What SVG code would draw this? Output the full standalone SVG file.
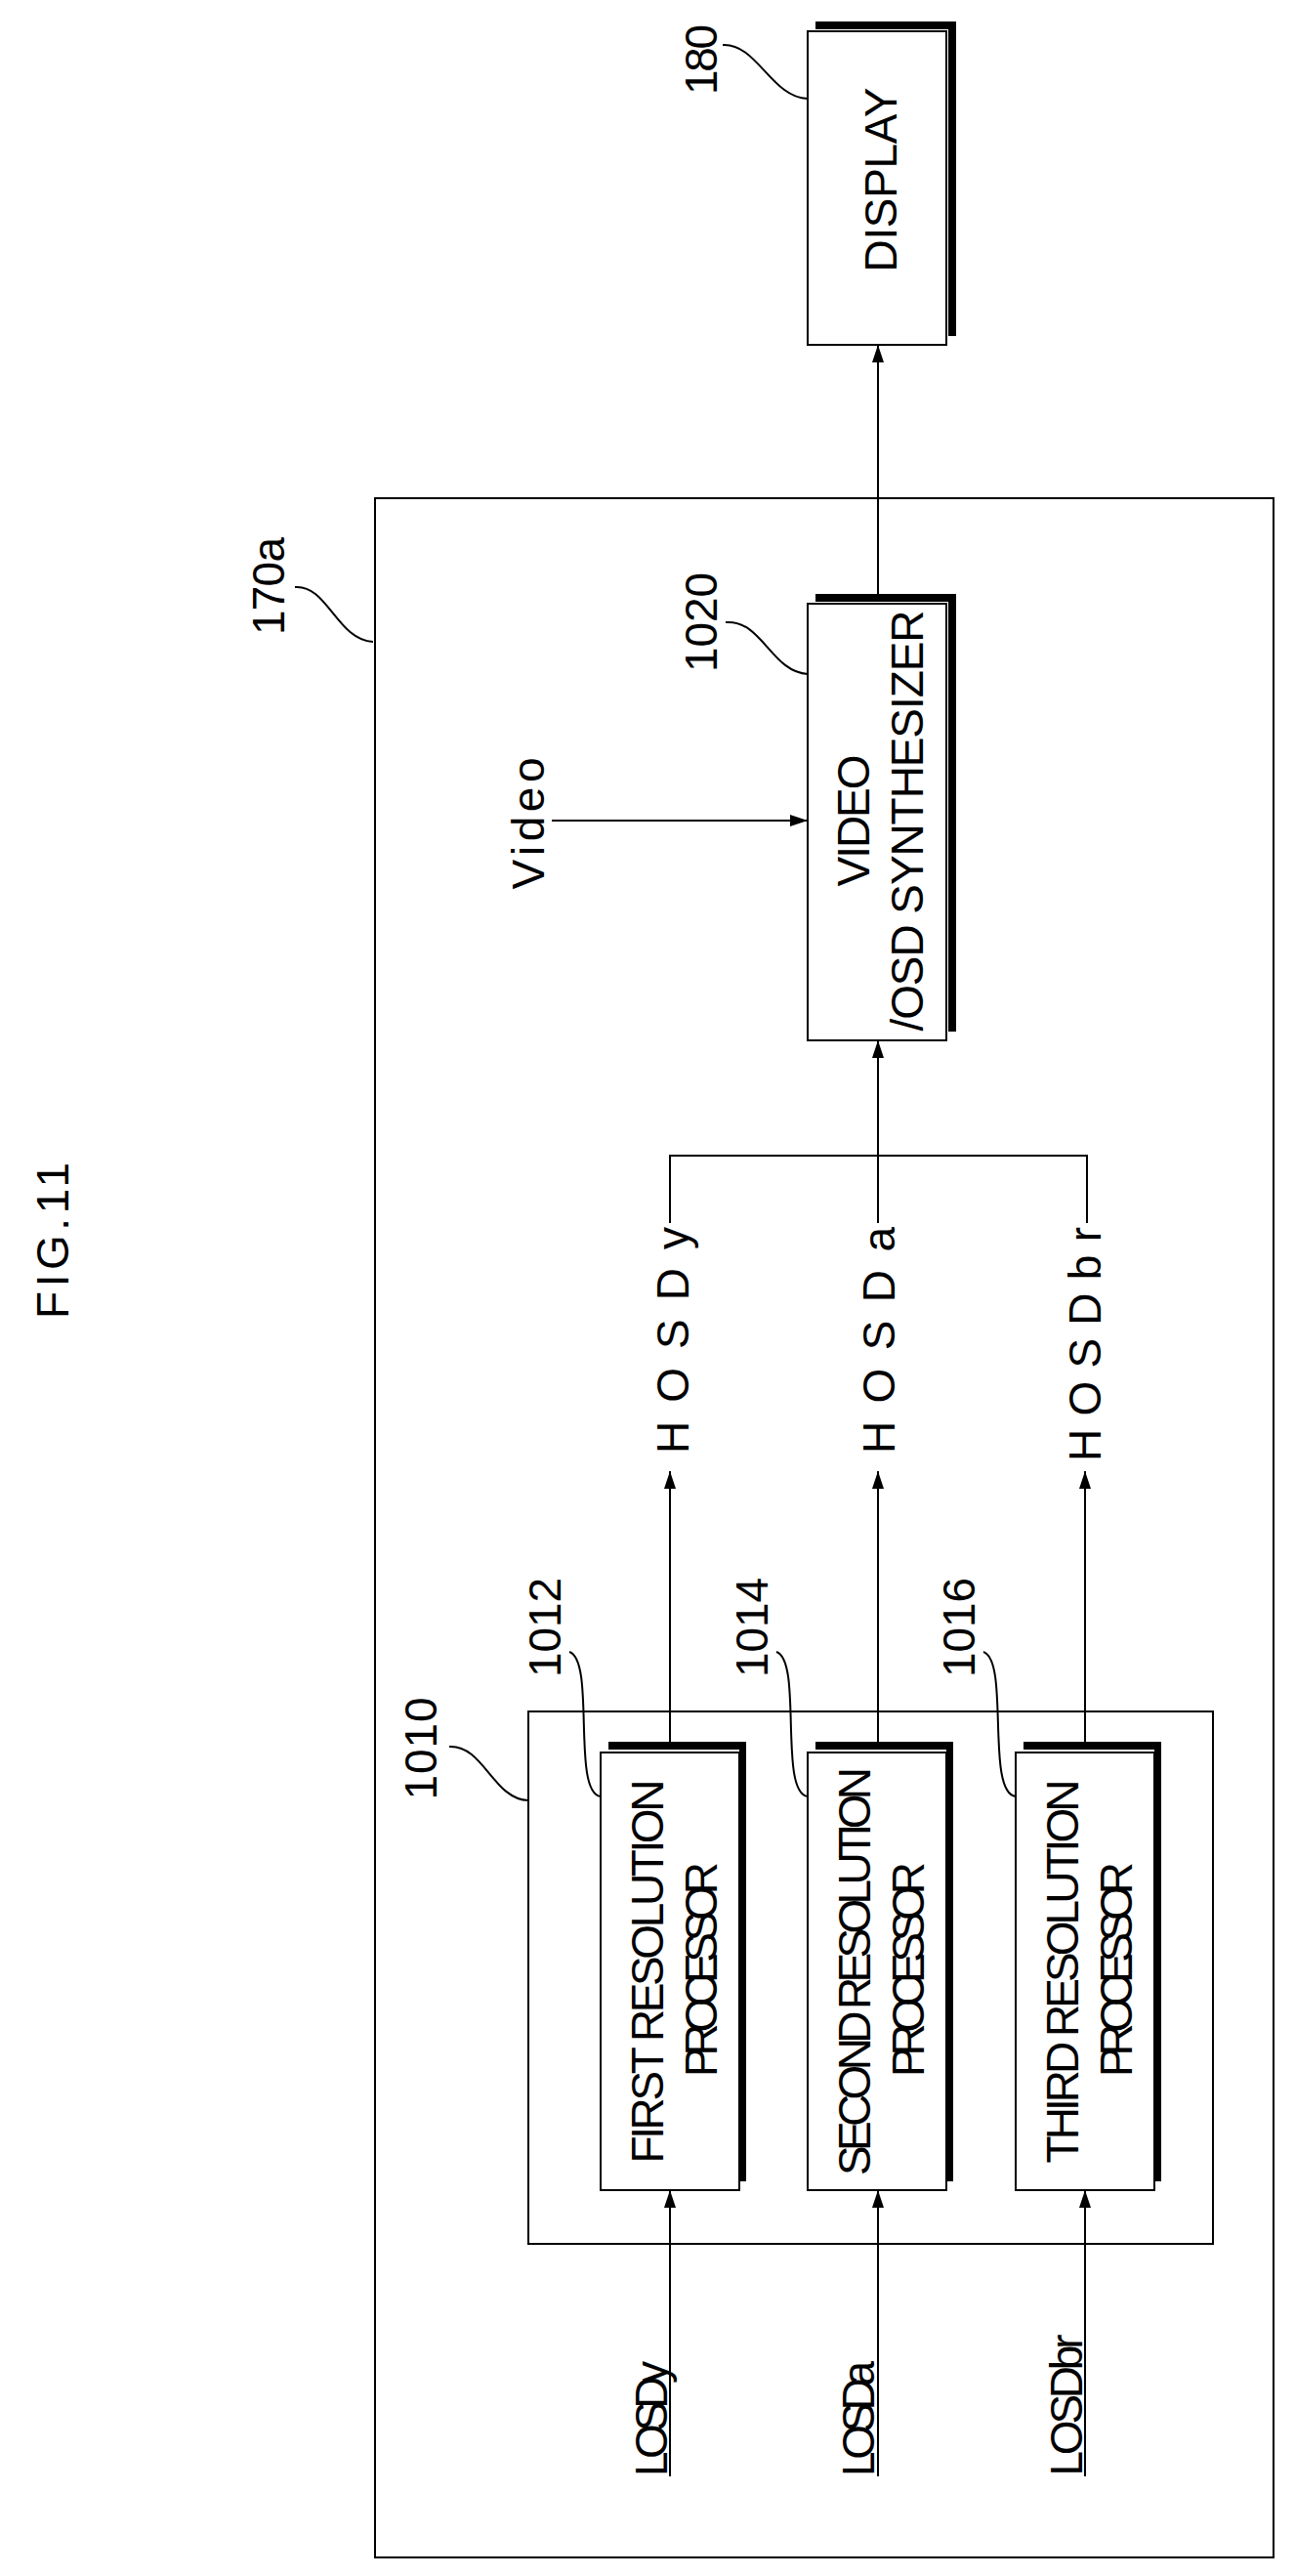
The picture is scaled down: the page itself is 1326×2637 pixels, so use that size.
<svg xmlns="http://www.w3.org/2000/svg" width="1326" height="2637" viewBox="0 0 1326 2637">
<style>
.b{fill:#fff;stroke:#000;stroke-width:2}
.sh{fill:#000}
.l{fill:none;stroke:#000;stroke-width:2}
.t{font-family:"Liberation Sans",Arial,sans-serif;font-size:46px;fill:#000}
</style>
<defs>
<marker id="a" markerUnits="userSpaceOnUse" markerWidth="20" markerHeight="12" refX="18" refY="6" orient="auto"><path d="M0,0 L18,6 L0,12 Z" fill="#000"/></marker>
</defs>
<rect width="1326" height="2637" fill="#fff"/>
<text class="t" transform="translate(70,1270) rotate(-90)" text-anchor="middle" textLength="160" lengthAdjust="spacing">FIG.11</text>
<g id="n170a">
<rect class="b" x="384" y="510" width="920" height="2108"/>
<text class="t" transform="translate(291,600) rotate(-90)" text-anchor="middle" textLength="100" lengthAdjust="spacing">170a</text>
<path class="l" d="M302,601 C335,598 345,655 382,657"/>
</g>
<g id="n180">
<rect class="sh" x="835" y="22" width="144" height="8"/><rect class="sh" x="971" y="22" width="8" height="322"/>
<rect class="b" x="827" y="32" width="142" height="321"/>
<text class="t" transform="translate(918,184) rotate(-90)" text-anchor="middle" font-size="52" textLength="189" lengthAdjust="spacing">DISPLAY</text>
<text class="t" transform="translate(734,61) rotate(-90)" text-anchor="middle" textLength="72" lengthAdjust="spacing">180</text>
<path class="l" d="M740,46 C775,44 790,100 827,101"/>
</g>
<g id="n1020">
<rect class="sh" x="835" y="608" width="144" height="8"/><rect class="sh" x="971" y="608" width="8" height="448"/>
<rect class="b" x="827" y="618" width="142" height="447"/>
<text class="t" transform="translate(890,840) rotate(-90)" text-anchor="middle" textLength="135" lengthAdjust="spacing">VIDEO</text>
<text class="t" transform="translate(945,840) rotate(-90)" text-anchor="middle" textLength="431" lengthAdjust="spacing">/OSD SYNTHESIZER</text>
<text class="t" transform="translate(734,637) rotate(-90)" text-anchor="middle" textLength="102" lengthAdjust="spacing">1020</text>
<path class="l" d="M743,637 C780,634 790,688 827,690"/>
</g>
<g id="n1010">
<rect class="b" x="541" y="1752" width="701" height="545"/>
<text class="t" transform="translate(447,1790) rotate(-90)" text-anchor="middle" textLength="105" lengthAdjust="spacing">1010</text>
<path class="l" d="M460,1788 C495,1786 505,1842 541,1843"/>
</g>
<g id="n1012">
<rect class="sh" x="623" y="1783" width="141" height="8"/><rect class="sh" x="757" y="1783" width="7" height="450"/>
<rect class="b" x="615" y="1794" width="142" height="448"/>
<text class="t" transform="translate(679,2018) rotate(-90)" text-anchor="middle" textLength="393" lengthAdjust="spacing">FIRST RESOLUTION</text>
<text class="t" transform="translate(734,2016) rotate(-90)" text-anchor="middle" textLength="220" lengthAdjust="spacing">PROCESSOR</text>
<text class="t" transform="translate(574,1666) rotate(-90)" text-anchor="middle" textLength="102" lengthAdjust="spacing">1012</text>
<path class="l" d="M583,1691 C610,1700 585,1835 615,1839"/>
</g>
<g id="n1014">
<rect class="sh" x="835" y="1783" width="141" height="8"/><rect class="sh" x="969" y="1783" width="7" height="450"/>
<rect class="b" x="827" y="1794" width="142" height="448"/>
<text class="t" transform="translate(891,2018) rotate(-90)" text-anchor="middle" textLength="418" lengthAdjust="spacing">SECOND RESOLUTION</text>
<text class="t" transform="translate(946,2016) rotate(-90)" text-anchor="middle" textLength="220" lengthAdjust="spacing">PROCESSOR</text>
<text class="t" transform="translate(786,1666) rotate(-90)" text-anchor="middle" textLength="102" lengthAdjust="spacing">1014</text>
<path class="l" d="M795,1691 C822,1700 797,1835 827,1839"/>
</g>
<g id="n1016">
<rect class="sh" x="1048" y="1783" width="141" height="8"/><rect class="sh" x="1182" y="1783" width="7" height="450"/>
<rect class="b" x="1040" y="1794" width="142" height="448"/>
<text class="t" transform="translate(1104,2018) rotate(-90)" text-anchor="middle" textLength="393" lengthAdjust="spacing">THIRD RESOLUTION</text>
<text class="t" transform="translate(1159,2016) rotate(-90)" text-anchor="middle" textLength="220" lengthAdjust="spacing">PROCESSOR</text>
<text class="t" transform="translate(998,1666) rotate(-90)" text-anchor="middle" textLength="102" lengthAdjust="spacing">1016</text>
<path class="l" d="M1007,1691 C1034,1700 1009,1835 1040,1839"/>
</g>
<g id="labels">
<text class="t" transform="translate(557,843) rotate(-90)" text-anchor="middle" textLength="135" lengthAdjust="spacing">Video</text>
<text class="t" transform="translate(705,1372) rotate(-90)" text-anchor="middle" textLength="232" lengthAdjust="spacing">HOSDy</text>
<text class="t" transform="translate(916,1372) rotate(-90)" text-anchor="middle" textLength="232" lengthAdjust="spacing">HOSDa</text>
<text class="t" transform="translate(1127,1376) rotate(-90)" text-anchor="middle" textLength="240" lengthAdjust="spacing">HOSDbr</text>
<text class="t" transform="translate(683,2476) rotate(-90)" text-anchor="middle" textLength="118" lengthAdjust="spacing">LOSDy</text>
<text class="t" transform="translate(895,2476) rotate(-90)" text-anchor="middle" textLength="118" lengthAdjust="spacing">LOSDa</text>
<text class="t" transform="translate(1108,2462) rotate(-90)" text-anchor="middle" textLength="145" lengthAdjust="spacing">LOSDbr</text>
</g>
<g id="connectors">
<line class="l" x1="899" y1="608" x2="899" y2="353" marker-end="url(#a)"/>
<line class="l" x1="565" y1="840" x2="827" y2="840" marker-end="url(#a)"/>
<path class="l" d="M686,1252 V1183 H1113 V1252"/>
<line class="l" x1="899" y1="1252" x2="899" y2="1065" marker-end="url(#a)"/>
<line class="l" x1="686" y1="1783" x2="686" y2="1506" marker-end="url(#a)"/>
<line class="l" x1="899" y1="1783" x2="899" y2="1506" marker-end="url(#a)"/>
<line class="l" x1="1111" y1="1783" x2="1111" y2="1506" marker-end="url(#a)"/>
<line class="l" x1="686" y1="2535" x2="686" y2="2242" marker-end="url(#a)"/>
<line class="l" x1="899" y1="2535" x2="899" y2="2242" marker-end="url(#a)"/>
<line class="l" x1="1111" y1="2535" x2="1111" y2="2242" marker-end="url(#a)"/>
</g>
</svg>
